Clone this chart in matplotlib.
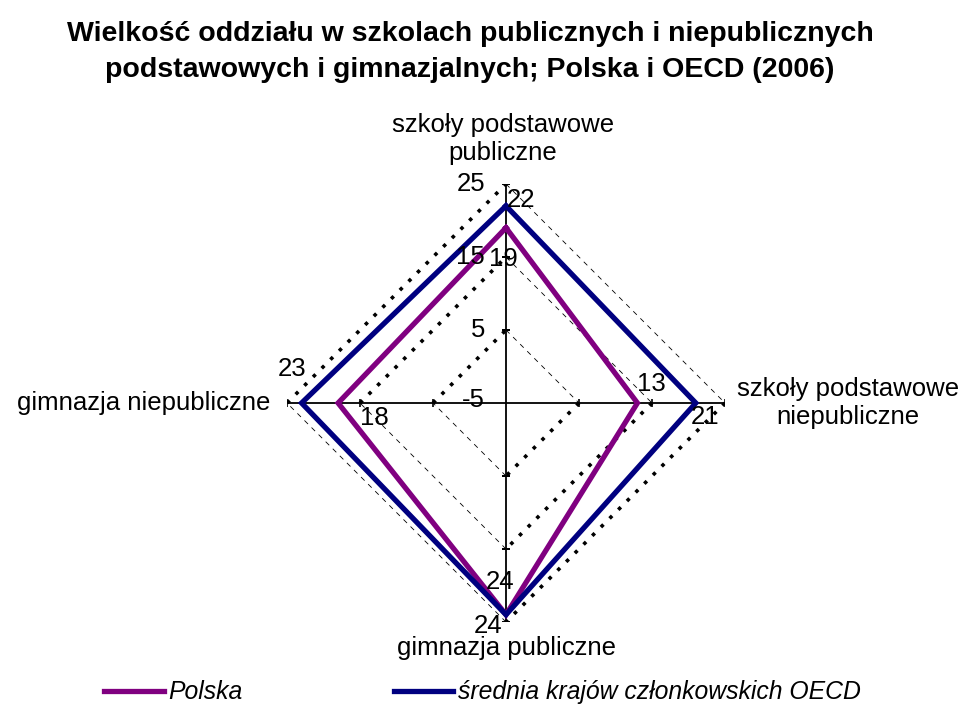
import numpy as np
import matplotlib
matplotlib.use("Agg")
from matplotlib import pyplot as plt

plt.rcParams['font.family'] = ['Liberation Sans', 'DejaVu Sans']

# categories clockwise from the top
categories = ['szkoły podstawowe\npubliczne', 'szkoły podstawowe\nniepubliczne',
              'gimnazja publiczne', 'gimnazja niepubliczne']
polska = [19, 13, 24, 18]
oecd = [22, 21, 24, 23]
rticks = [-5, 5, 15, 25]
series_names = ['Polska', 'średnia krajów członkowskich OECD']

fig = plt.figure(figsize=(9.59, 7.07), dpi=100)
ax = fig.add_axes([287/959, 1 - 622/707, 438/959, 438/707], projection='polar')
ax.set_theta_zero_location('N')
ax.set_theta_direction(-1)
ax.set_ylim(-5, 25)
ax.grid(False)
ax.set_xticks([])
ax.set_yticks([])
ax.spines['polar'].set_visible(False)

ang = np.deg2rad([0, 90, 180, 270])

# diamond gridlines: excel-ish mix of thick dotted and thin dashed sides
for r in rticks[1:]:
    for k in range(4):
        t = [ang[k], ang[(k + 1) % 4]]
        if k in (1, 3):   # right->bottom and left->top sides
            ax.plot(t, [r, r], color='black', lw=2.6, ls=(0, (1, 2.4)))
        else:
            ax.plot(t, [r, r], color='black', lw=0.6, ls=(0, (6, 6)))

# axis lines with ticks
for k, a in enumerate(ang):
    ax.plot([a, a], [-5, 25], color='black', lw=1.3)
    ax.plot([a] * 3, rticks[1:], ls='none', marker='_' if k in (0, 2) else '|',
            color='black', ms=6, mew=1.2)

# series
ax.plot(np.append(ang, ang[0]), polska + polska[:1], color='#800080', lw=3.8,
        solid_joinstyle='miter', label=series_names[0])
ax.plot(np.append(ang, ang[0]), oecd + oecd[:1], color='#000080', lw=3.8,
        solid_joinstyle='miter', label=series_names[1])

fs = 18.5
# radial tick labels along the top axis
for r in rticks:
    ax.annotate(str(r), (0, r), xytext=(-21, 3 if r == -5 else 0),
                textcoords='offset pixels', ha='right', va='center', fontsize=fs)

# value labels
pl_off = [(-3, -31), (14, 19), (-6, 33), (36, -15)]
oe_off = [(15, 6), (9, -14), (-18, -11), (-10, 34)]
for k in range(4):
    ax.annotate(str(polska[k]), (ang[k], polska[k]), xytext=pl_off[k],
                textcoords='offset pixels', ha='center', va='center', fontsize=fs)
    ax.annotate(str(oecd[k]), (ang[k], oecd[k]), xytext=oe_off[k],
                textcoords='offset pixels', ha='center', va='center', fontsize=fs)

# category labels
ax.annotate(categories[0], (ang[0], 25), xytext=(-3, 45), textcoords='offset pixels',
            ha='center', va='center', fontsize=fs, linespacing=1.2)
ax.annotate(categories[1], (ang[1], 25), xytext=(123, 0), textcoords='offset pixels',
            ha='center', va='center', fontsize=fs, linespacing=1.2)
ax.annotate(categories[2], (ang[2], 25), xytext=(0, -26), textcoords='offset pixels',
            ha='center', va='center', fontsize=fs)
ax.annotate(categories[3], (ang[3], 25), xytext=(-17, 0), textcoords='offset pixels',
            ha='right', va='center', fontsize=fs)

fig.text(0.49, 0.971, 'Wielkość oddziału w szkolach publicznych i niepublicznych\n'
         'podstawowych i gimnazjalnych; Polska i OECD (2006)',
         ha='center', va='top', fontsize=20.5, fontweight='bold', linespacing=1.5)

fig.legend(loc='center left', bbox_to_anchor=(0.0855, 0.021), ncol=2, frameon=False,
           prop={'style': 'italic', 'size': 17.8}, handlelength=2.4, handletextpad=0.2,
           columnspacing=6.1)

fig.savefig('out.png', dpi=100)
